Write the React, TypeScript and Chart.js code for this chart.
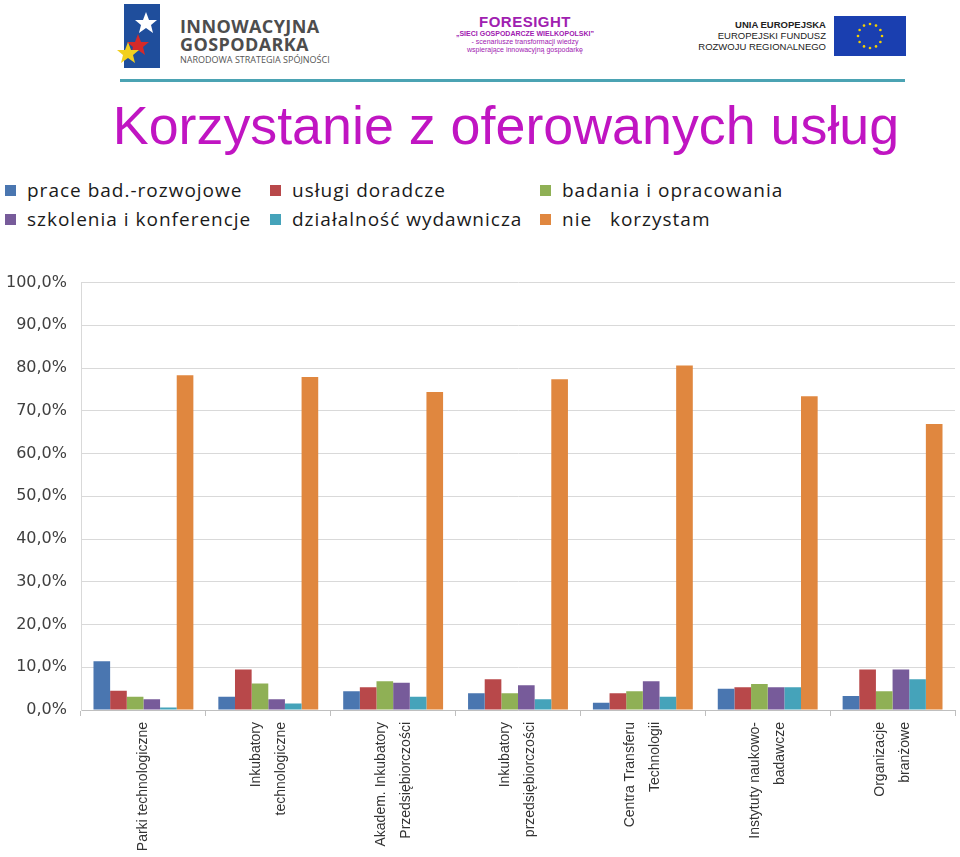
import React, { useEffect, useRef } from "react";
import { Chart, registerables } from "chart.js";

Chart.register(...registerables);

const categories: (string | string[])[] = [
  "Parki technologiczne",
  ["Inkubatory", "technologiczne"],
  ["Akadem. Inkubatory", "Przedsiębiorczości"],
  ["Inkubatory", "przedsiębiorczości"],
  ["Centra Transferu", "Technologii"],
  ["Instytuty naukowo-", "badawcze"],
  ["Organizacje", "branżowe"],
];

const seriesNames = [
  "prace bad.-rozwojowe",
  "usługi doradcze",
  "badania i opracowania",
  "szkolenia i konferencje",
  "działalność wydawnicza",
  "nie   korzystam",
];

const seriesColors = ["#4a76b0", "#b8484a", "#8fb055", "#775b9a", "#45a3ba", "#e0873f"];

const praceBadRozwojowe = [11.4, 3.1, 4.4, 3.9, 1.7, 5.0, 3.3];
const uslugiDoradcze = [4.5, 9.5, 5.3, 7.2, 3.9, 5.3, 9.5];
const badaniaOpracowania = [3.1, 6.2, 6.7, 3.9, 4.4, 6.1, 4.4];
const szkoleniaKonferencje = [2.5, 2.5, 6.4, 5.8, 6.7, 5.3, 9.5];
const dzialalnoscWydawnicza = [0.6, 1.5, 3.1, 2.5, 3.1, 5.3, 7.2];
const nieKorzystam = [78.3, 77.9, 74.4, 77.4, 80.6, 73.4, 66.9];

const yMin = 0;
const yMax = 100;
const yStep = 10;

const seriesValues = [
  praceBadRozwojowe,
  uslugiDoradcze,
  badaniaOpracowania,
  szkoleniaKonferencje,
  dzialalnoscWydawnicza,
  nieKorzystam,
];

// Draws the rotated, multi-line category labels centred on each tick of the x scale.
const centeredRotatedLabels = {
  id: "centeredRotatedLabels",
  afterDraw(chart: any) {
    const xs = chart.scales.x;
    const ctx = chart.ctx;
    const lineGap = 25;
    ctx.save();
    ctx.fillStyle = "#333333";
    ctx.font = "14px 'Liberation Sans', Arial, sans-serif";
    ctx.textAlign = "right";
    ctx.textBaseline = "middle";
    const labels = chart.data.labels as (string | string[])[];
    labels.forEach((lab, i) => {
      const lines = Array.isArray(lab) ? lab : [lab];
      const cx = xs.getPixelForTick(i);
      lines.forEach((line, j) => {
        const lx = cx + (j - (lines.length - 1) / 2) * lineGap;
        ctx.save();
        ctx.translate(lx, xs.top + 12);
        ctx.rotate(-Math.PI / 2);
        ctx.fillText(line, 0, 0);
        ctx.restore();
      });
    });
    ctx.restore();
  },
};

function ChartCanvas() {
  const ref = useRef<HTMLCanvasElement | null>(null);
  useEffect(() => {
    if (!ref.current) return;
    const chart = new Chart(ref.current, {
      type: "bar",
      data: {
        labels: categories,
        datasets: seriesNames.map((name, i) => ({
          label: name,
          data: seriesValues[i],
          backgroundColor: seriesColors[i],
          borderWidth: 0,
          categoryPercentage: 0.8,
          barPercentage: 1.0,
        })),
      },
      plugins: [centeredRotatedLabels],
      options: {
        responsive: false,
        animation: false,
        devicePixelRatio: 1,
        layout: { padding: { top: 16, right: 5, left: 0, bottom: 0 } },
        plugins: {
          legend: { display: false },
          tooltip: { enabled: false },
          title: { display: false },
        },
        scales: {
          x: {
            grid: {
              offset: true,
              drawOnChartArea: false,
              drawTicks: true,
              tickLength: 6,
              color: "#bfbfbf",
            },
            border: { color: "#bfbfbf" },
            ticks: {
              display: false,
              autoSkip: false,
            },
            afterFit: (scale: any) => {
              scale.height = 147;
            },
          },
          y: {
            min: yMin,
            max: yMax,
            ticks: {
              stepSize: yStep,
              padding: 14,
              color: "#404040",
              font: { family: "'DejaVu Sans', Verdana, sans-serif", size: 16 },
              callback: (v: any) => Number(v).toFixed(1).replace(".", ",") + "%",
            },
            grid: { color: "#d9d9d9", drawTicks: false },
            border: { color: "#d9d9d9" },
            afterFit: (scale: any) => {
              scale.width = 81;
            },
          },
        },
      },
    });
    return () => chart.destroy();
  }, []);
  return (
    <canvas
      ref={ref}
      width={960}
      height={598}
      style={{ position: "absolute", left: 0, top: 259, width: 960, height: 598 }}
    />
  );
}

function Legend() {
  const pos = [
    { x: 5, y: 185 },
    { x: 270, y: 185 },
    { x: 540, y: 185 },
    { x: 5, y: 214 },
    { x: 270, y: 214 },
    { x: 540, y: 214 },
  ];
  return (
    <>
      {seriesNames.map((n, i) => (
        <div
          key={n}
          style={{
            position: "absolute",
            left: pos[i].x,
            top: pos[i].y - 6,
            height: 22,
            display: "flex",
            alignItems: "center",
            whiteSpace: "pre",
          }}
        >
          <span
            style={{
              display: "inline-block",
              width: 11,
              height: 11,
              background: seriesColors[i],
              marginRight: 11,
            }}
          />
          <span
            style={{
              fontFamily: "'Open Sans', sans-serif",
              fontSize: 19,
              letterSpacing: 1.0,
              color: "#1a1a1a",
            }}
          >
            {n}
          </span>
        </div>
      ))}
    </>
  );
}

function Header() {
  return (
    <>
      {/* left logo */}
      <svg style={{ position: "absolute", left: 116, top: 4 }} width={48} height={64}>
        <rect x={8} y={0} width={36} height={64} fill="#1f4e9c" />
        <polygon points="30,8 33,16 41,16 35,21 37,29 30,24 23,29 25,21 19,16 27,16" fill="#ffffff" />
        <polygon points="22,30 25,38 33,38 27,43 29,51 22,46 15,51 17,43 11,38 19,38" fill="#d42a2a" />
        <polygon points="12,38 15,46 23,46 17,51 19,59 12,54 5,59 7,51 1,46 9,46" fill="#f2d020" />
      </svg>
      <div
        style={{
          position: "absolute",
          left: 180,
          top: 17,
          fontFamily: "'Open Sans', sans-serif",
          fontWeight: 700,
          fontSize: 18,
          lineHeight: "18px",
          color: "#4d4d4d",
          letterSpacing: 0.4,
        }}
      >
        INNOWACYJNA
        <br />
        GOSPODARKA
      </div>
      <div
        style={{
          position: "absolute",
          left: 180,
          top: 53,
          fontFamily: "'Open Sans', sans-serif",
          fontSize: 9,
          color: "#555",
        }}
      >
        NARODOWA STRATEGIA SPÓJNOŚCI
      </div>
      {/* middle logo */}
      <div
        style={{
          position: "absolute",
          left: 430,
          top: 14,
          width: 190,
          textAlign: "center",
          fontFamily: "'Liberation Sans', Arial, sans-serif",
          color: "#a020b0",
        }}
      >
        <div style={{ fontWeight: 700, fontSize: 15, lineHeight: "15px", letterSpacing: 0.5 }}>FORESIGHT</div>
        <div style={{ fontWeight: 700, fontSize: 7, lineHeight: "9px" }}>„SIECI GOSPODARCZE WIELKOPOLSKI”</div>
        <div style={{ fontSize: 7, lineHeight: "8px" }}>- scenariusze transformacji wiedzy</div>
        <div style={{ fontSize: 7, lineHeight: "8px" }}>wspierające innowacyjną gospodarkę</div>
      </div>
      {/* right logo */}
      <div
        style={{
          position: "absolute",
          left: 676,
          top: 19,
          width: 150,
          textAlign: "right",
          fontFamily: "'Liberation Sans', Arial, sans-serif",
          color: "#222",
          fontSize: 9.5,
          lineHeight: "11px",
          whiteSpace: "nowrap",
        }}
      >
        <div style={{ fontWeight: 700 }}>UNIA EUROPEJSKA</div>
        <div>EUROPEJSKI FUNDUSZ</div>
        <div>ROZWOJU REGIONALNEGO</div>
      </div>
      <svg style={{ position: "absolute", left: 834, top: 16 }} width={72} height={40}>
        <rect x={0} y={0} width={72} height={40} fill="#1a3fb0" />
        {Array.from({ length: 12 }).map((_, k) => {
          const a = (k / 12) * Math.PI * 2;
          return <circle key={k} cx={36 + 12 * Math.cos(a)} cy={20 + 12 * Math.sin(a)} r={1.3} fill="#f5d000" />;
        })}
      </svg>
      <div
        style={{
          position: "absolute",
          left: 120,
          top: 79,
          width: 785,
          height: 3,
          background: "#4ba3b3",
        }}
      />
      <div
        style={{
          position: "absolute",
          left: 0,
          top: 90,
          width: 1012,
          textAlign: "center",
          fontFamily: "'Liberation Sans', Arial, sans-serif",
          fontSize: 53.8,
          lineHeight: "70px",
          color: "#c015c2",
          whiteSpace: "nowrap",
        }}
      >
        Korzystanie z oferowanych usług
      </div>
    </>
  );
}

export default function App() {
  return (
    <div
      style={{
        position: "absolute",
        left: 0,
        top: 0,
        width: 960,
        height: 857,
        background: "#ffffff",
        overflow: "hidden",
      }}
    >
      <Header />
      <Legend />
      <ChartCanvas />
    </div>
  );
}
